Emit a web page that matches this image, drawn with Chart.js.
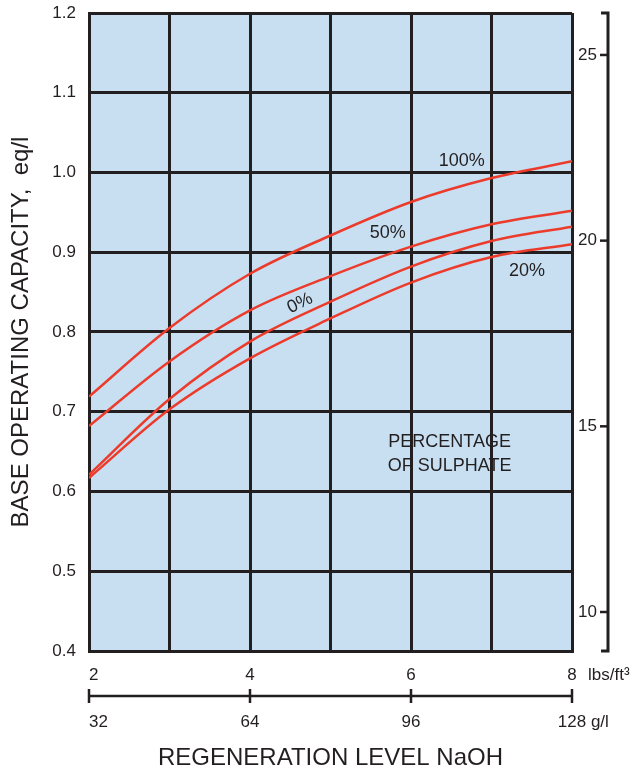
<!DOCTYPE html>
<html><head><meta charset="utf-8">
<style>html,body{margin:0;padding:0;background:#fff;}#wrap{width:636px;height:774px;}</style>
<script src="https://cdn.jsdelivr.net/npm/chart.js@4.4.1/dist/chart.umd.min.js"></script>
</head><body><div id="wrap"><canvas id="c" width="636" height="774"></canvas></div>
<script>
// ---- data ----
const regenLbs = [2, 3, 4, 5, 6, 7, 8];            // lbs/ft3
const cap100 = [0.719, 0.805, 0.873, 0.921, 0.963, 0.993, 1.014];
const cap50  = [0.682, 0.763, 0.827, 0.870, 0.907, 0.935, 0.952];
const cap0   = [0.621, 0.716, 0.788, 0.838, 0.882, 0.914, 0.932];
const cap20  = [0.617, 0.703, 0.767, 0.817, 0.862, 0.894, 0.910];
const seriesNames = ['100%', '50%', '0%', '20%'];
const yTicks  = [0.4, 0.5, 0.6, 0.7, 0.8, 0.9, 1.0, 1.1, 1.2];  // eq/l
const y2Ticks = [10, 15, 20, 25];                               // kgr/ft3
const lbsTicks = [2, 4, 6, 8];
const glTicks  = [32, 64, 96, 128];

const FONT = "'Liberation Sans', Arial, Helvetica, sans-serif";
const INK = '#231f20';
const RED = '#ec3b2b';
const BG = '#c8dff2';

const toPts = arr => regenLbs.map((x, i) => ({x, y: arr[i]}));
const series = [cap100, cap50, cap0, cap20];

const bgPlugin = {
  id: 'bg',
  beforeDraw(chart) {
    const {ctx, chartArea: a} = chart;
    ctx.save();
    ctx.fillStyle = BG;
    ctx.fillRect(a.left, a.top, a.right - a.left, a.bottom - a.top);
    ctx.restore();
  }
};

const annot = {
  id: 'annot',
  afterDraw(chart) {
    const {ctx, chartArea: a, scales} = chart;
    const {x, x2, y, y2} = scales;
    ctx.save();
    ctx.fillStyle = INK; ctx.strokeStyle = INK;
    ctx.textBaseline = 'middle';
    ctx.font = '17px ' + FONT;
    // lbs/ft3 labels
    lbsTicks.forEach((v, i) => {
      ctx.textAlign = i === 0 ? 'left' : 'center';
      ctx.fillText(String(v), x.getPixelForValue(v), a.bottom + 24);
    });
    ctx.textAlign = 'left';
    ctx.fillText('lbs/ft³', x.getPixelForValue(lbsTicks[lbsTicks.length - 1]) + 16, a.bottom + 24);
    // g/l ruler
    const ry = a.bottom + 45;
    ctx.lineWidth = 2.5;
    ctx.beginPath();
    ctx.moveTo(x2.getPixelForValue(glTicks[0]), ry);
    ctx.lineTo(x2.getPixelForValue(glTicks[glTicks.length - 1]), ry);
    ctx.stroke();
    glTicks.forEach(v => {
      const px = x2.getPixelForValue(v);
      ctx.beginPath(); ctx.moveTo(px, ry - 7); ctx.lineTo(px, ry + 7); ctx.stroke();
    });
    glTicks.forEach((v, i) => {
      const px = x2.getPixelForValue(v);
      const s = String(v);
      if (i === 0) { ctx.textAlign = 'left'; ctx.fillText(s, px, a.bottom + 71); }
      else {
        ctx.textAlign = 'center'; ctx.fillText(s, px, a.bottom + 71);
        if (i === glTicks.length - 1) {
          ctx.textAlign = 'left';
          ctx.fillText(' g/l', px + ctx.measureText(s).width / 2, a.bottom + 71);
        }
      }
    });
    // right bracket axis
    const bx = a.right + 36;
    ctx.lineWidth = 3;
    ctx.beginPath();
    ctx.moveTo(bx - 7, a.top); ctx.lineTo(bx, a.top); ctx.lineTo(bx, a.bottom); ctx.lineTo(bx - 7, a.bottom);
    ctx.stroke();
    ctx.lineWidth = 2.5;
    y2Ticks.forEach(v => {
      const py = y2.getPixelForValue(v);
      ctx.beginPath(); ctx.moveTo(bx - 8, py); ctx.lineTo(bx, py); ctx.stroke();
    });
    // curve labels
    ctx.font = '18px ' + FONT;
    ctx.textAlign = 'center';
    const lab = (t, vx, vy, rot) => {
      const px = x.getPixelForValue(vx), py = y.getPixelForValue(vy);
      ctx.save(); ctx.translate(px, py); if (rot) ctx.rotate(rot);
      ctx.fillText(t, 0, 0); ctx.restore();
    };
    lab(seriesNames[0], 6.63, 1.014);
    lab(seriesNames[1], 5.71, 0.9235);
    lab(seriesNames[3], 7.44, 0.8765);
    lab(seriesNames[2], 4.62, 0.836, -26 * Math.PI / 180);
    lab('PERCENTAGE', 6.48, 0.662);
    lab('OF SULPHATE', 6.48, 0.632);
    ctx.restore();
  }
};

const noVPad = s => { s.paddingTop = 0; s.paddingBottom = 0; };

new Chart(document.getElementById('c'), {
  type: 'line',
  data: {
    datasets: series.map((s, i) => ({
      label: seriesNames[i],
      data: toPts(s),
      borderColor: RED,
      borderWidth: 2.5,
      pointRadius: 0,
      fill: false,
      cubicInterpolationMode: 'monotone',
      xAxisID: 'x', yAxisID: 'y'
    }))
  },
  options: {
    responsive: false,
    animation: false,
    devicePixelRatio: 1,
    layout: {padding: {top: 13, left: 0, right: 0, bottom: 0}},
    plugins: {legend: {display: false}, tooltip: {enabled: false}},
    scales: {
      x: {
        type: 'linear', position: 'bottom', min: 2, max: 8,
        afterBuildTicks: s => { s.ticks = regenLbs.map(v => ({value: v})); },
        ticks: {display: false},
        grid: {color: INK, lineWidth: 3, drawTicks: false},
        border: {display: true, color: INK, width: 3},
        title: {display: true, text: 'REGENERATION LEVEL NaOH', color: INK,
                font: {family: FONT, size: 24, lineHeight: 1}, padding: {top: 0, bottom: 4}},
        afterFit: s => { s.height = 123; s.paddingLeft = 0; s.paddingRight = 0; }
      },
      x2: {type: 'linear', display: false, min: 32, max: 128},
      y: {
        type: 'linear', position: 'left', min: 0.4, max: 1.2,
        afterBuildTicks: s => { s.ticks = yTicks.map(v => ({value: v})); },
        ticks: {color: INK, font: {family: FONT, size: 17}, padding: 13, callback: v => Number(v).toFixed(1)},
        grid: {color: INK, lineWidth: 3, drawTicks: false},
        border: {display: true, color: INK, width: 3},
        title: {display: true, text: 'BASE OPERATING CAPACITY,  eq/l', color: INK,
                font: {family: FONT, size: 24, lineHeight: 1}, padding: {top: 9, bottom: 0}},
        afterFit: s => { s.width = 89; noVPad(s); }
      },
      y2: {
        type: 'linear', position: 'right', min: 8.95, max: 26.13,
        afterBuildTicks: s => { s.ticks = y2Ticks.map(v => ({value: v})); },
        ticks: {color: INK, font: {family: FONT, size: 17}, padding: 6, callback: v => String(v)},
        grid: {drawOnChartArea: false, drawTicks: false},
        border: {display: false},
        afterFit: s => { s.width = 64; noVPad(s); }
      }
    }
  },
  plugins: [bgPlugin, annot]
});
</script>
</body></html>
